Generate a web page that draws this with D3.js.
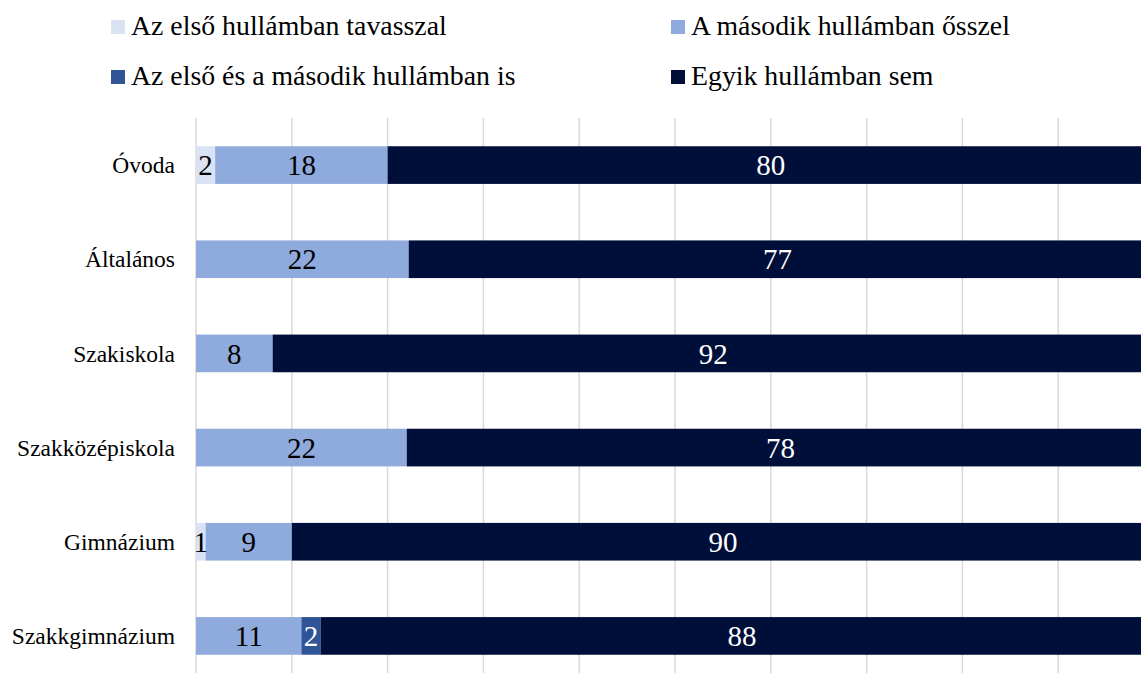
<!DOCTYPE html>
<html>
<head>
<meta charset="utf-8">
<script src="https://cdn.jsdelivr.net/npm/d3@7"></script>
<style>
  body { margin: 0; background: #fff; }
  svg { display: block; }
</style>
</head>
<body>
<div id="chart"></div>
<script>
var width = 1141, height = 673;

var categories = ["Óvoda", "Általános", "Szakiskola", "Szakközépiskola", "Gimnázium", "Szakkgimnázium"];
var series = ["Az első hullámban tavasszal", "A második hullámban ősszel", "Az első és a második hullámban is", "Egyik hullámban sem"];
var springOnly = [2, 0, 0, 0, 1, 0];
var autumnOnly = [18, 22.2, 8, 22, 9, 11];
var bothWaves  = [0, 0, 0, 0, 0, 2];
var neither    = [80, 77, 92, 78, 90, 88];
var colors = ["#dae3f3", "#8faadc", "#2f5597", "#000f3a"];
var labelColors = ["#000", "#000", "#fff", "#fff"];
var gridTicks = d3.range(0, 101, 10);

var plot = {left: 196, right: 1154, top: 118, bottom: 683};
var serif = "Times New Roman, Times, Liberation Serif, DejaVu Serif, FreeSerif, serif";

var rows = categories.map((c, i) => ({cat: c, 0: springOnly[i], 1: autumnOnly[i], 2: bothWaves[i], 3: neither[i]}));
var stacked = d3.stack().keys([0, 1, 2, 3])(rows);

var x = d3.scaleLinear().domain([0, 100]).range([plot.left, plot.right]);
var y = d3.scaleBand().domain(categories).range([plot.top, plot.bottom])
    .paddingInner(0.6).paddingOuter(0.3);

var svg = d3.select("#chart").append("svg")
    .attr("width", width)
    .attr("height", height);

// gridlines
svg.append("g").selectAll("line")
    .data(gridTicks)
    .join("line")
    .attr("x1", d => x(d)).attr("x2", d => x(d))
    .attr("y1", plot.top).attr("y2", plot.bottom)
    .attr("stroke", "#d9d9d9")
    .attr("stroke-width", 1.5);

// bars
var layer = svg.append("g").selectAll("g")
    .data(stacked)
    .join("g")
    .attr("fill", (d, i) => colors[i]);

layer.selectAll("rect")
    .data(d => d.filter(p => p[1] - p[0] > 0))
    .join("rect")
    .attr("x", d => x(d[0]))
    .attr("y", d => y(d.data.cat))
    .attr("width", d => x(d[1]) - x(d[0]))
    .attr("height", y.bandwidth());

// value labels
var fmt = d3.format(".0f");
stacked.forEach((s, si) => {
  svg.append("g").selectAll("text")
    .data(s.filter(p => p[1] - p[0] > 0))
    .join("text")
    .attr("x", d => x((d[0] + d[1]) / 2))
    .attr("y", d => y(d.data.cat) + y.bandwidth() / 2)
    .attr("dy", "0.35em")
    .attr("text-anchor", "middle")
    .attr("font-family", serif)
    .attr("font-size", 29)
    .attr("fill", labelColors[si])
    .text(d => fmt(d[1] - d[0]));
});

// category labels
svg.append("g").selectAll("text")
    .data(categories)
    .join("text")
    .attr("x", 175)
    .attr("y", d => y(d) + y.bandwidth() / 2)
    .attr("dy", "0.35em")
    .attr("text-anchor", "end")
    .attr("font-family", serif)
    .attr("font-size", 23.5)
    .attr("fill", "#000")
    .text(d => d);

// legend
var legendPos = [[111, 20], [671, 20], [111, 70], [671, 70]];
var legend = svg.append("g").selectAll("g")
    .data(series)
    .join("g")
    .attr("transform", (d, i) => "translate(" + legendPos[i][0] + "," + legendPos[i][1] + ")");

legend.append("rect")
    .attr("width", 14).attr("height", 14)
    .attr("fill", (d, i) => colors[i]);

legend.append("text")
    .attr("x", 20)
    .attr("y", 15)
    .attr("font-family", serif)
    .attr("font-size", 27.8)
    .attr("fill", "#000")
    .text(d => d);
</script>
</body>
</html>
